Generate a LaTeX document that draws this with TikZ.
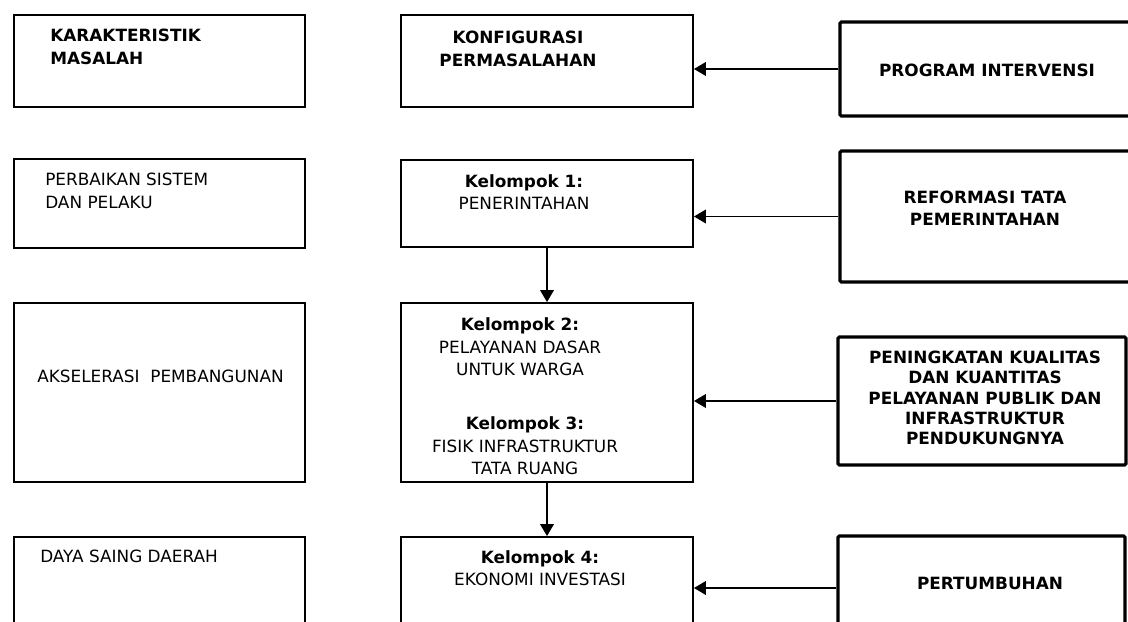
\documentclass[tikz,border=0pt]{standalone}
\usepackage{fontspec}
\setmainfont{DejaVu Sans}
\usetikzlibrary{arrows.meta}
\usetikzlibrary{fit}

\begin{document}
\begin{tikzpicture}[
    x=0.025cm, y=-0.025cm,
    box/.style={
        draw, line width=1.3pt, inner sep=0pt
    },
    heavybox/.style={
        box, line width=2.2pt, rounded corners=1pt
    },
    txt/.style={
        inner sep=0pt, font=\fontsize{12}{16}\selectfont
    },
    conn/.style={
        line width=1.3pt,
        -{Triangle[length=3mm,width=3.4mm]}
    }
]

    \path[use as bounding box] (0,0) rectangle (1128,622);
    \clip (0,0) rectangle (1128,622);

    % left column
    \node (kar) [box, fit={(14,15) (305,107)}] {};
    \node (per) [box, fit={(14,159) (305,248)}] {};
    \node (aks) [box, fit={(14,303) (305,482)}] {};
    \node (day) [box, fit={(14,537) (305,660)}] {};
    \node (karT) [txt, anchor=west, align=left] at (50,47)
        {\textbf{KARAKTERISTIK}\\\textbf{MASALAH}};
    \node (perT) [txt, anchor=west, align=left] at (45,191)
        {PERBAIKAN SISTEM\\DAN PELAKU};
    \node (aksT) [txt, anchor=west] at (37,376) {AKSELERASI\ \ PEMBANGUNAN};
    \node (dayT) [txt, anchor=west] at (40,556) {DAYA SAING DAERAH};

    % middle column
    \node (kon) [box, fit={(401,15) (693,107)}] {};
    \node (kel1) [box, fit={(401,160) (693,247)}] {};
    \node (kel23) [box, fit={(401,303) (693,482)}] {};
    \node (kel4) [box, fit={(401,537) (693,660)}] {};
    \node (konT) [txt, align=center] at (518,49)
        {\textbf{KONFIGURASI}\\\textbf{PERMASALAHAN}};
    \node (kel1T) [txt, align=center] at (524,192)
        {\textbf{Kelompok 1:}\\PENERINTAHAN};
    \node (kel2T) [txt, align=center] at (520,347)
        {\textbf{Kelompok 2:}\\PELAYANAN DASAR\\UNTUK WARGA};
    \node (kel3T) [txt, align=center] at (525,446)
        {\textbf{Kelompok 3:}\\FISIK INFRASTRUKTUR\\TATA RUANG};
    \node (kel4T) [txt, align=center] at (540,568)
        {\textbf{Kelompok 4:}\\EKONOMI INVESTASI};

    % right column
    \node (prg) [heavybox, fit={(840,22) (1140,116)}] {};
    \node (ref) [heavybox, fit={(840,151) (1140,282)}] {};
    \node (pen) [heavybox, fit={(838,337) (1126,465)}] {};
    \node (tum) [heavybox, fit={(838,536) (1125,640)}] {};
    \node (prgT) [txt, font=\fontsize{12}{16}\selectfont\bfseries] at (987,70)
        {PROGRAM INTERVENSI};
    \node (refT) [txt, align=center, font=\fontsize{12}{16}\selectfont\bfseries]
        at (985,208) {REFORMASI TATA\\PEMERINTAHAN};
    \node (penT) [txt, align=center, font=\fontsize{12}{14.5}\selectfont\bfseries]
        at (985,398) {PENINGKATAN KUALITAS\\DAN KUANTITAS\\PELAYANAN PUBLIK DAN\\INFRASTRUKTUR\\PENDUKUNGNYA};
    \node (tumT) [txt, font=\fontsize{12}{16}\selectfont\bfseries] at (990,583)
        {PERTUMBUHAN};

    % connectors
    \draw[conn] (prg.west) -- (prg.west -| kon.east);
    \draw[conn] (ref.west) -- (ref.west -| kel1.east);
    \draw[conn] (pen.west) -- (pen.west -| kel23.east);
    \draw[conn] (tum.west) -- (tum.west -| kel4.east);
    \draw[conn] (kel1.south) -- (kel23.north);
    \draw[conn] (kel23.south) -- (kel4.north);

\end{tikzpicture}
\end{document}
